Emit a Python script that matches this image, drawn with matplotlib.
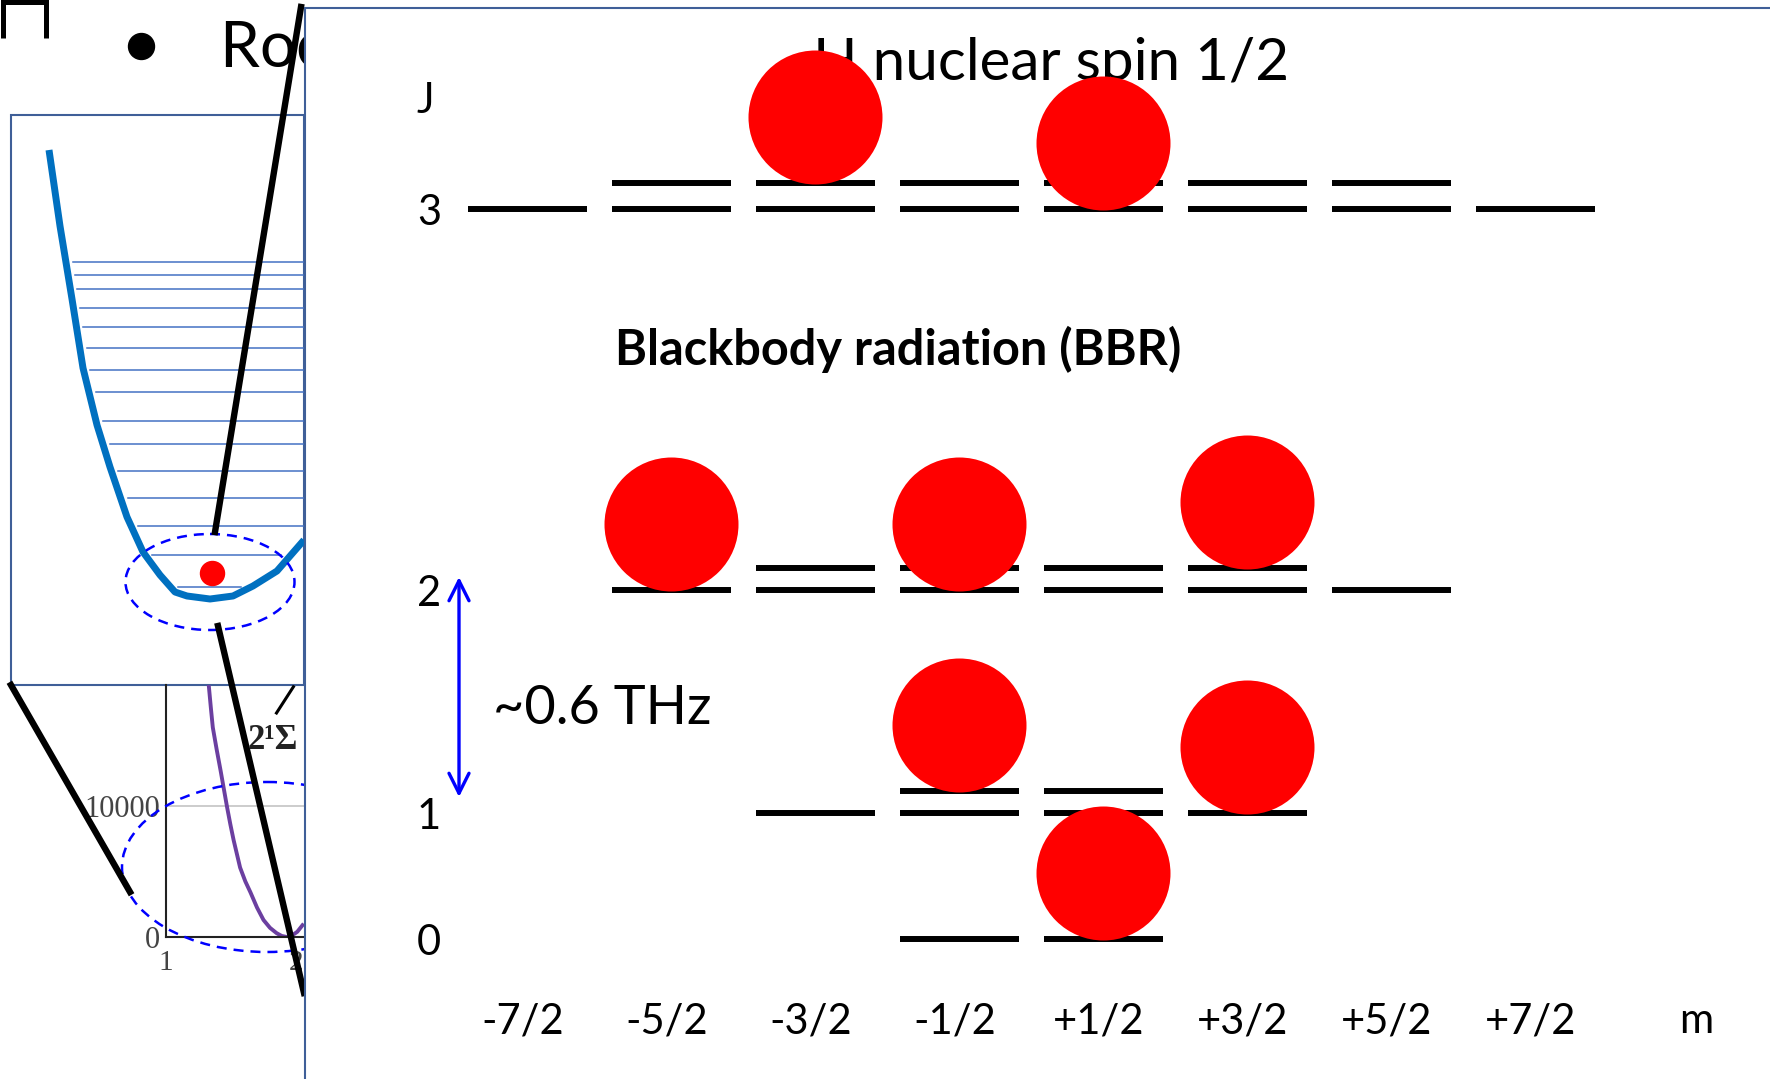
import numpy as np
import matplotlib.pyplot as plt
from matplotlib.patches import Rectangle, Ellipse

plt.rcParams['font.family'] = ['Lato', 'DejaVu Sans']

# rotational levels J, each split in two hyperfine branches F = J+1/2 (first) and F = J-1/2 (second)
J_values = [0, 1, 2, 3]
F_branches = [[0.5], [1.5, 0.5], [2.5, 1.5], [3.5, 2.5]]
E_branches = [[0], [126, 148], [349, 371], [730, 756]]   # level height, arbitrary units

m_values = [-3.5, -2.5, -1.5, -0.5, 0.5, 1.5, 2.5, 3.5]
m_labels = ['-7/2', '-5/2', '-3/2', '-1/2', '+1/2', '+3/2', '+5/2', '+7/2']

# populated states (red dots): m, J, branch index
pop_m = [-1.5, 0.5, -2.5, -0.5, 1.5, -0.5, 1.5, 0.5]
pop_J = [3, 3, 2, 2, 2, 1, 1, 0]
pop_branch = [1, 0, 0, 0, 1, 1, 0, 0]

# potential well sketch on the left (pixel units)
well_x = [49, 60, 72, 83, 97, 110, 127, 143, 160, 175, 187, 210, 233, 253, 277, 304]
well_y = [150, 226, 299, 368, 425, 467, 517, 552, 575, 592, 596, 599, 596, 586, 571, 540]
vib_y = [261.5, 275, 289, 308, 327, 348, 370, 392, 421, 444, 471, 498, 526, 555, 587]

# clipped potential curve of the small inset
inset_R = [1.33, 1.345, 1.36, 1.39, 1.42, 1.445, 1.47, 1.495, 1.52, 1.57, 1.61, 1.65,
           1.70, 1.75, 1.80, 1.85, 1.89, 1.93, 1.97, 2.01, 2.05]
inset_V = [19100, 17500, 16000, 14300, 12700, 11300, 9900, 8600, 7400, 5300, 4250, 3400,
           2250, 1300, 700, 300, 80, 0, 120, 400, 900]
inset_R2 = [1.85, 1.98]
inset_V2 = [17100, 19100]

W, H = 1770, 1079
box_col = '#3f5f98'

fig = plt.figure(figsize=(W / 100, H / 100), dpi=100)

# ---------- background layer (pixel coordinates) ----------
ax_bg = fig.add_axes([0, 0, 1, 1])
ax_bg.set_xlim(0, W)
ax_bg.set_ylim(H, 0)
ax_bg.axis('off')

ax_bg.plot([2.5, 2.5, 45.5, 45.5], [38, 2, 2, 38], color='black', lw=3.6,
           solid_joinstyle='miter', solid_capstyle='butt')
ax_bg.plot(141, 46, 'o', ms=18.7, color='black')
ax_bg.text(220, 67, 'Room temperature', fontsize=46, ha='left', va='baseline')

ax_bg.add_patch(Rectangle((11, 115), 293, 570, fc='white', ec=box_col, lw=1.5, zorder=1))

wx = np.array(well_x, float)
wy = np.array(well_y, float)
imin = int(np.argmax(wy))
left_x, left_y = wx[:imin + 1], wy[:imin + 1]
right_x, right_y = wx[imin:][::-1], wy[imin:][::-1]
for y in vib_y:
    xs = np.interp(y, left_y, left_x) + 7
    if y <= right_y[0]:
        xe = 304
    else:
        xe = np.interp(y, right_y, right_x) - 10
    ax_bg.plot([xs, xe], [y, y], color='#4472c4', lw=1.1, zorder=2)
ax_bg.plot(wx, wy, color='#0070c0', lw=5, zorder=3, solid_capstyle='butt')
ax_bg.plot(212, 573, 'o', ms=17.3, color='#ff0000', zorder=4)
ax_bg.add_patch(Ellipse((210, 582), 169, 96, fill=False, ec='#0000ff', lw=1.8,
                        ls=(0, (4, 2.8)), zorder=5))

# ---------- inset (screenshot of a potential curve) ----------
ax_in = fig.add_axes([166 / W, (H - 937) / H, 139 / W, 252 / H])
ax_in.set_zorder(1)
ax_in.set_facecolor('none')
ax_in.set_xlim(1, 1 + 139 / 130)
ax_in.set_ylim(0, 10000 * 252 / 131)
ax_in.axhline(10000, color='#c4c4c4', lw=1.2, zorder=1)
ax_in.plot(inset_R, inset_V, color='#6b3fa0', lw=2.8, zorder=2)
ax_in.plot(inset_R2, inset_V2, color='black', lw=2.2, zorder=2)
ax_in.text(1.823, 14962, '2¹Σ', fontsize=25, fontweight='bold', family='Liberation Serif',
           ha='center', va='center', color='#222222')
for s in ['top', 'right']:
    ax_in.spines[s].set_visible(False)
for s in ['left', 'bottom']:
    ax_in.spines[s].set_linewidth(1.5)
    ax_in.spines[s].set_color('#222222')
ax_in.set_xticks([1, 2])
ax_in.set_yticks([0, 10000])
ax_in.set_xticklabels(['1', '2'], family='Liberation Serif', fontsize=21, color='#444444')
ax_in.set_yticklabels(['0', '10000'], family='Liberation Serif', fontsize=22, color='#444444')
ax_in.tick_params(axis='x', length=0, pad=9)
ax_in.tick_params(axis='y', length=0, pad=4)

# ---------- foreground layer: zoom lines and right panel ----------
ax_fg = fig.add_axes([0, 0, 1, 1])
ax_fg.set_zorder(2)
ax_fg.set_facecolor('none')
ax_fg.set_xlim(0, W)
ax_fg.set_ylim(H, 0)
ax_fg.axis('off')

ax_fg.add_patch(Ellipse((267, 867), 290, 170, fill=False, ec='#0000ff', lw=1.8,
                        ls=(0, (4, 2.8)), zorder=2))
ax_fg.plot([215, 301], [532, 7], color='black', lw=4.6, zorder=3)
ax_fg.plot([218, 304], [626, 993], color='black', lw=4.6, zorder=3)
ax_fg.plot([11, 130], [685, 892], color='black', lw=4.6, zorder=3)

ax_fg.add_patch(Rectangle((305, 8), 1600, 1200, fc='white', ec=box_col, lw=1.5, zorder=5))

ax_fg.text(1051, 80, 'H nuclear spin 1/2', fontsize=42, ha='center', va='baseline', zorder=6)
ax_fg.text(898, 365, 'Blackbody radiation (BBR)', fontsize=35, fontweight='bold',
           ha='center', va='baseline', zorder=6)
ax_fg.text(602, 724, '~0.6 THz', fontsize=39, ha='center', va='baseline', zorder=6)
ax_fg.annotate('', xy=(459, 577), xytext=(459, 797), zorder=6,
               arrowprops=dict(arrowstyle='<->, head_length=0.72, head_width=0.36',
                               color='#0000ff', lw=2.4, shrinkA=0, shrinkB=0,
                               mutation_scale=20))

# ---------- level diagram: x = m, y = level height ----------
x0, dx = 1031.2, 144.0
ax_lv = fig.add_axes([0, 0, 1, 1])
ax_lv.set_zorder(3)
ax_lv.set_facecolor('none')
ax_lv.set_xlim(-x0 / dx, (W - x0) / dx)
ax_lv.set_ylim(939 - H, 939)
ax_lv.axis('off')

half = 0.413
for J, Fs, Es in zip(J_values, F_branches, E_branches):
    for F, E in zip(Fs, Es):
        ms = np.arange(-F, F + 0.5, 1.0)
        ax_lv.hlines([E] * len(ms), ms - half, ms + half, color='black', lw=4.3, zorder=2)
    ax_lv.text(-4.182, Es[0] - 16, str(J), fontsize=30, ha='center', va='baseline')
ax_lv.text(-4.21, 826, 'J', fontsize=30, ha='center', va='baseline')

for m, lab in zip(m_values, m_labels):
    ax_lv.text(m - 0.03, -94, lab, fontsize=30, ha='center', va='baseline')
ax_lv.text(4.62, -94, 'm', fontsize=30, ha='center', va='baseline')

r_px = 67
pop_E = [E_branches[J][b] + r_px - 1 for J, b in zip(pop_J, pop_branch)]
ax_lv.scatter(pop_m, pop_E, s=(2 * r_px * 72 / 100) ** 2, color='#ff0000',
              linewidths=0, zorder=4)

fig.savefig('out.png', dpi=100)
